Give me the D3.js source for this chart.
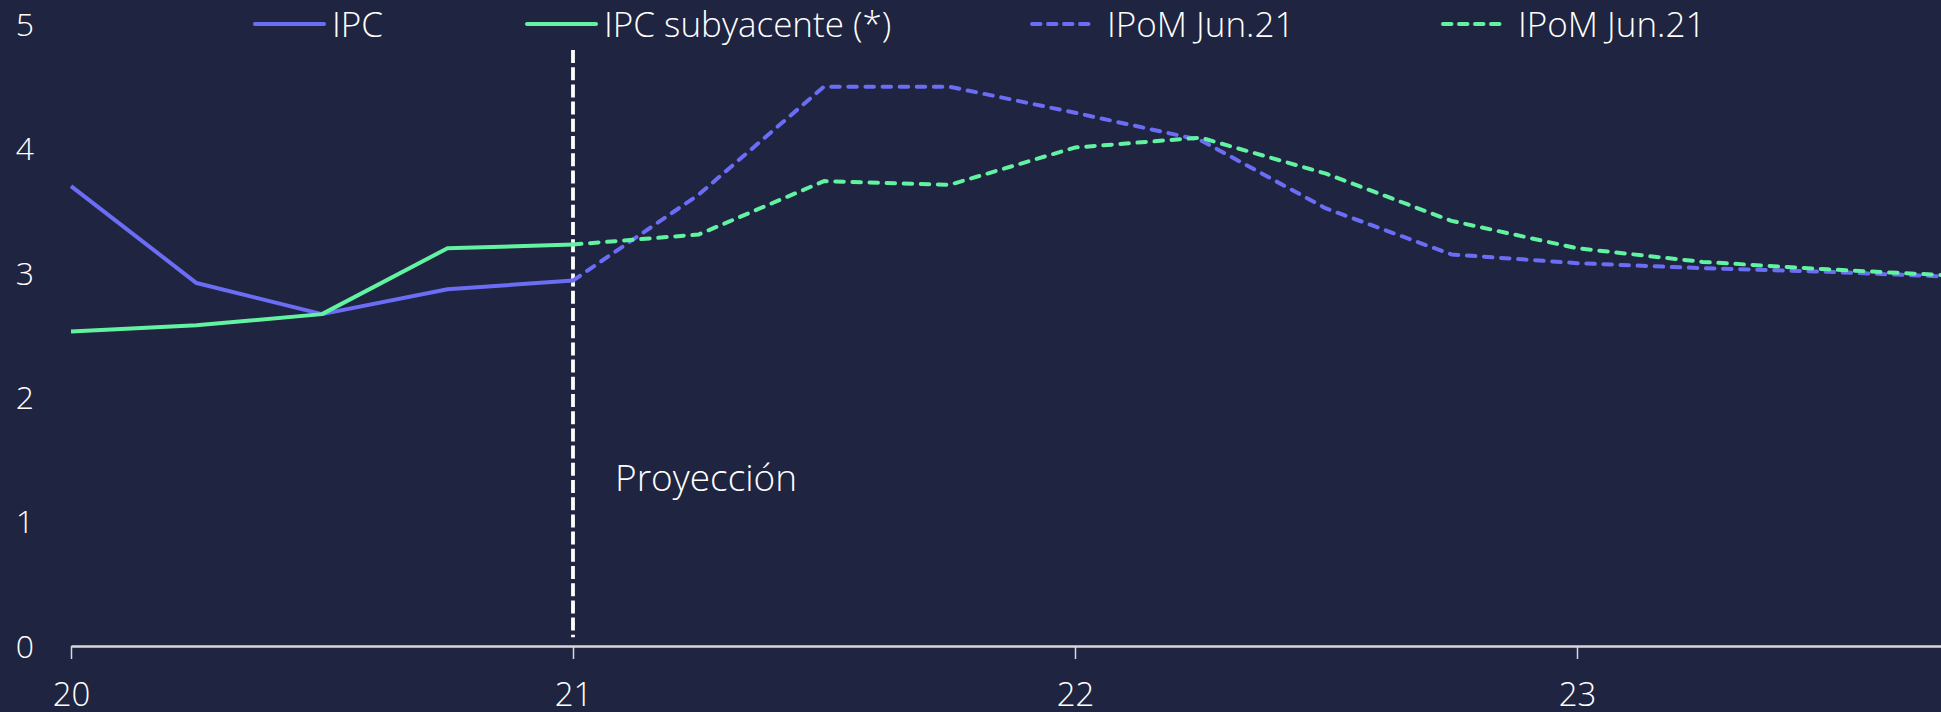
<!DOCTYPE html>
<html>
<head>
<meta charset="utf-8">
<script src="https://cdn.jsdelivr.net/npm/d3@7/dist/d3.min.js"></script>
<style>
  html, body { margin: 0; padding: 0; background: #1f2440; }
  svg { display: block; }
  text { font-family: "Open Sans", "Noto Sans", sans-serif; font-weight: 300; fill: #ffffff; }
</style>
</head>
<body>
<svg id="chart" width="1941" height="712"></svg>
<script>
// Quarterly observations (year fraction, 20 = 2020)
const histQuarters = [20, 20.25, 20.5, 20.75, 21];
const ipc          = [3.70, 2.92, 2.67, 2.87, 2.94];
const ipcSub       = [2.53, 2.58, 2.67, 3.20, 3.23];

// Projection path (IPoM Jun.21), starting from the last observed quarter
const projQuarters = [21, 21.25, 21.5, 21.75, 22, 22.25, 22.5, 22.75, 23, 23.25, 23.5, 23.75];
const ipomIpc      = [2.94, 3.63, 4.50, 4.50, 4.29, 4.07, 3.52, 3.15, 3.08, 3.04, 3.01, 2.97];
const ipomSub      = [3.23, 3.31, 3.74, 3.71, 4.01, 4.09, 3.80, 3.42, 3.20, 3.09, 3.03, 2.98];

const xTicks      = [20, 21, 22, 23];
const xTickLabels = ["20", "21", "22", "23"];
const yTicks      = [0, 1, 2, 3, 4, 5];

const legendLabels = ["IPC", "IPC subyacente (*)", "IPoM Jun.21", "IPoM Jun.21"];
const projectionStart = 21;
const projectionLabel = "Proyección";

const BLUE = "#6b6df5";
const GREEN = "#62f3a2";

const svg = d3.select("#chart");

const x = d3.scaleLinear().domain([20, 23.75]).range([71, 71 + 3.75 * 502]);
const y = d3.scaleLinear().domain([0, 5]).range([646, 24.5]);

// X axis
const xAxis = svg.append("g")
  .attr("transform", `translate(0,${y(0)})`)
  .call(d3.axisBottom(x)
    .tickValues(xTicks)
    .tickFormat((d, i) => xTickLabels[i])
    .tickSize(13)
    .tickSizeOuter(0));
xAxis.select(".domain").attr("stroke", "#d9d9d9").attr("stroke-width", 2.3);
xAxis.selectAll(".tick line").attr("stroke", "#d9d9d9").attr("stroke-width", 1.5);
xAxis.selectAll(".tick text")
  .attr("y", 60).attr("dy", 0)
  .style("font-size", "33px");

// Y labels (no axis line)
svg.append("g").selectAll("text")
  .data(yTicks).join("text")
  .attr("x", 25)
  .attr("y", d => y(d))
  .attr("dy", "0.36em")
  .attr("text-anchor", "middle")
  .style("font-size", "32px")
  .text(d => d);

// Projection marker
svg.append("line")
  .attr("x1", x(projectionStart)).attr("x2", x(projectionStart))
  .attr("y1", y(4.795)).attr("y2", y(0.07))
  .attr("stroke", "#ffffff")
  .attr("stroke-width", 3.8)
  .attr("stroke-dasharray", "13 4.2");

svg.append("text")
  .attr("x", x(projectionStart) + 42)
  .attr("y", y(1.25))
  .style("font-size", "37px")
  .text(projectionLabel);

const line = d3.line().x(d => x(d[0])).y(d => y(d[1]));
const zip = (xs, ys) => xs.map((v, i) => [v, ys[i]]);

const series = [
  { pts: zip(histQuarters, ipc),    color: BLUE,  dash: null },
  { pts: zip(histQuarters, ipcSub), color: GREEN, dash: null },
  { pts: zip(projQuarters, ipomIpc), color: BLUE,  dash: "8.5 8.6" },
  { pts: zip(projQuarters, ipomSub), color: GREEN, dash: "8.5 8.6" }
];

svg.append("g").selectAll("path")
  .data(series).join("path")
  .attr("d", d => line(d.pts))
  .attr("fill", "none")
  .attr("stroke", d => d.color)
  .attr("stroke-width", 4)
  .attr("stroke-linejoin", "round")
  .attr("stroke-linecap", d => d.dash ? "round" : "butt")
  .attr("stroke-dasharray", d => d.dash);

// Legend
const legendItems = [
  { label: legendLabels[0], color: BLUE,  dash: null,  x0: 255,  len: 69 },
  { label: legendLabels[1], color: GREEN, dash: null,  x0: 527,  len: 69 },
  { label: legendLabels[2], color: BLUE,  dash: "8.5 7.5", x0: 1030, len: 60 },
  { label: legendLabels[3], color: GREEN, dash: "8.5 7.5", x0: 1441, len: 60 }
];
const lg = svg.append("g").selectAll("g")
  .data(legendItems).join("g")
  .attr("transform", d => `translate(${d.x0},24)`);
lg.append("line")
  .attr("x1", d => d.dash ? 2 : 0).attr("x2", d => d.len)
  .attr("stroke", d => d.color)
  .attr("stroke-width", 4)
  .attr("stroke-linecap", "round")
  .attr("stroke-dasharray", d => d.dash);
lg.append("text")
  .attr("x", 77)
  .attr("y", 12.5)
  .style("font-size", "35px")
  .text(d => d.label);
</script>
</body>
</html>
